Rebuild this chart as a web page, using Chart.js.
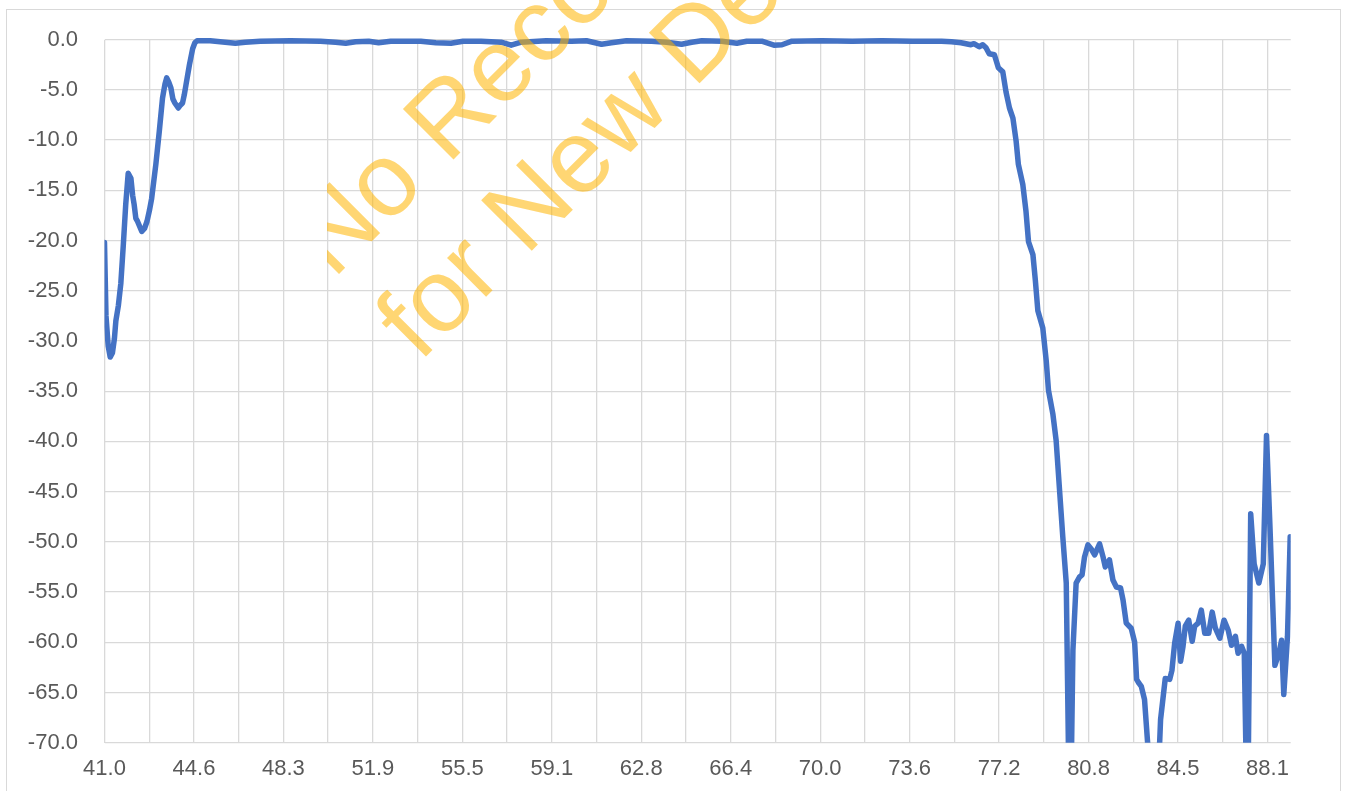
<!DOCTYPE html>
<html>
<head>
<meta charset="utf-8">
<script src="https://cdn.jsdelivr.net/npm/chart.js@4"></script>
<style>
    body { margin: 0; background: #ffffff; }
    #wrap { position: relative; width: 1346px; height: 791px; overflow: hidden; }
    #frame { position: absolute; left: 6px; top: 9px; width: 1335px; height: 820px; border: 1px solid #d9d9d9; box-sizing: border-box; }
    #myChart { position: absolute; left: 0; top: 0; }
</style>
</head>
<body>
<div id="wrap">
    <div id="frame"></div>
    <canvas id="myChart"></canvas>
</div>
<script>
// frequency points
const freqs = [
    41.00, 41.06, 41.15, 41.23, 41.32, 41.40, 41.46, 41.56, 41.66, 41.76,
    41.86, 41.96, 42.07, 42.14, 42.20, 42.27, 42.34, 42.51, 42.62, 42.72,
    42.82, 42.91, 43.08, 43.22, 43.35, 43.45, 43.52, 43.60, 43.69, 43.77,
    43.85, 43.99, 44.08, 44.16, 44.23, 44.30, 44.44, 44.57, 44.66, 44.75,
    45.28, 45.89, 46.30, 46.70, 47.31, 48.53, 49.75, 50.36, 50.77, 51.17,
    51.70, 52.10, 52.59, 53.81, 54.42, 55.03, 55.52, 56.25, 57.06, 57.47,
    57.88, 58.89, 59.91, 60.52, 61.13, 61.53, 62.14, 63.16, 63.76, 64.37,
    64.78, 65.19, 66.00, 66.61, 67.01, 67.62, 68.11, 68.44, 68.84, 70.06,
    71.28, 72.50, 73.71, 74.90, 75.30, 75.69, 76.09, 76.21, 76.42, 76.57,
    76.70, 76.83, 77.04, 77.20, 77.38, 77.51, 77.65, 77.79, 77.92, 78.01,
    78.19, 78.32, 78.42, 78.60, 78.70, 78.80, 79.00, 79.14, 79.23, 79.41,
    79.54, 79.68, 79.81, 79.95, 80.10, 80.22, 80.35, 80.49, 80.59, 80.69,
    80.83, 80.96, 81.10, 81.30, 81.44, 81.53, 81.70, 81.84, 81.98, 82.15,
    82.25, 82.38, 82.58, 82.72, 82.80, 82.90, 82.99, 83.12, 83.26, 83.48,
    83.70, 83.77, 83.96, 84.14, 84.23, 84.34, 84.48, 84.58, 84.68, 84.77,
    84.91, 85.05, 85.15, 85.29, 85.42, 85.56, 85.72, 85.86, 85.99, 86.17,
    86.34, 86.51, 86.64, 86.80, 86.91, 87.05, 87.16, 87.29, 87.42, 87.56,
    87.75, 87.93, 88.06, 88.20, 88.40, 88.56, 88.67, 88.76, 88.91, 89.02
];

// response in dB, same order as freqs
const gains = [
    -20.2, -27.5, -30.5, -31.6, -31.2, -29.8, -28.0, -26.5, -24.3, -20.5,
    -16.4, -13.3, -13.8, -15.5, -16.4, -17.8, -18.1, -19.1, -18.8, -18.1,
    -17.0, -15.8, -12.4, -9.1, -5.8, -4.4, -3.8, -4.2, -4.8, -5.9,
    -6.3, -6.8, -6.5, -6.3, -5.5, -4.5, -2.5, -0.9, -0.3, -0.1,
    -0.1, -0.25, -0.35, -0.25, -0.15, -0.1, -0.15, -0.25, -0.35, -0.2,
    -0.15, -0.3, -0.15, -0.15, -0.3, -0.35, -0.15, -0.15, -0.25, -0.55,
    -0.25, -0.1, -0.15, -0.1, -0.45, -0.3, -0.1, -0.15, -0.25, -0.45,
    -0.25, -0.1, -0.15, -0.35, -0.15, -0.15, -0.55, -0.5, -0.15, -0.1,
    -0.15, -0.1, -0.15, -0.15, -0.2, -0.3, -0.5, -0.4, -0.7, -0.5,
    -0.8, -1.4, -1.5, -2.8, -3.2, -5.2, -6.8, -7.8, -10.1, -12.4,
    -14.4, -17.1, -20.1, -21.4, -24.0, -27.0, -28.7, -32.0, -34.9, -37.3,
    -39.9, -44.9, -49.5, -54.1, -82.0, -60.8, -54.1, -53.5, -53.3, -51.5,
    -50.3, -50.7, -51.3, -50.2, -51.5, -52.5, -51.8, -53.8, -54.5, -54.6,
    -55.8, -58.1, -58.6, -60.0, -63.7, -64.1, -64.4, -65.7, -70.5, -82.0,
    -72.0, -67.7, -63.6, -63.7, -62.8, -60.1, -58.1, -61.9, -60.4, -58.4,
    -57.8, -59.9, -58.4, -58.1, -56.8, -59.1, -59.1, -57.0, -58.6, -59.6,
    -57.8, -58.8, -60.3, -59.4, -61.1, -60.4, -61.1, -80.0, -47.2, -52.2,
    -54.1, -52.2, -39.4, -48.5, -62.3, -61.1, -59.8, -65.2, -59.4, -49.5
];

const xTickLabels = ['41.0', '44.6', '48.3', '51.9', '55.5', '59.1', '62.8',
    '66.4', '70.0', '73.6', '77.2', '80.8', '84.5', '88.1'];
const xStart = 41.0;
const xLabelStep = 3.623;
const xEnd = 89.04;

const watermarkLines = ['No Recommend', 'for New Designs'];

function buildPoints() {
    var pts = [];
    for (var i = 0; i < freqs.length; i++) {
        pts.push({ x: freqs[i], y: gains[i] });
    }
    return pts;
}

// orange stamp drawn over the plot, cut off on its left edge
const watermarkPlugin = {
    id: 'watermark',
    afterDraw: function (chart) {
        var ctx = chart.ctx;
        ctx.save();
        ctx.beginPath();
        ctx.rect(327, 0, chart.width - 327, chart.height);
        ctx.clip();
        ctx.translate(333, 280);
        ctx.rotate(-Math.PI / 4);
        ctx.font = '104px "Liberation Sans"';
        ctx.fillStyle = 'rgba(255, 180, 0, 0.55)';
        ctx.textBaseline = 'alphabetic';
        ctx.fillText(watermarkLines[0], 0, 0);
        ctx.fillText(watermarkLines[1], 2.5, 120);
        ctx.restore();
    }
};

const tickFont = { family: '"Liberation Sans", Arial, sans-serif', size: 22 };

new Chart(document.getElementById('myChart'), {
    type: 'line',
    data: {
        datasets: [{
            data: buildPoints(),
            borderColor: '#4472c4',
            borderWidth: 5.5,
            pointRadius: 0,
            tension: 0,
            borderJoinStyle: 'round',
            borderCapStyle: 'round',
            clip: { left: 0, top: 3, right: 0, bottom: 0 }
        }]
    },
    options: {
        responsive: true,
        maintainAspectRatio: false,
        animation: false,
        layout: {
            padding: { left: 0, top: 37.7, right: 55.3, bottom: 0 }
        },
        plugins: {
            legend: { display: false },
            tooltip: { enabled: false }
        },
        scales: {
            x: {
                type: 'linear',
                min: xStart,
                max: xEnd,
                border: { display: false },
                grid: { color: '#d9d9d9', lineWidth: 1.3, drawTicks: false },
                afterBuildTicks: function (scale) {
                    var t = [];
                    for (var k = 0; k <= (xTickLabels.length - 1) * 2; k++) {
                        t.push({ value: xStart + k * xLabelStep / 2 });
                    }
                    scale.ticks = t;
                },
                afterFit: function (scale) { scale.height = 48.3; },
                ticks: {
                    autoSkip: false,
                    maxRotation: 0,
                    padding: 13,
                    color: '#595959',
                    font: tickFont,
                    callback: function (value, index) {
                        return index % 2 === 0 ? xTickLabels[index / 2] : '';
                    }
                }
            },
            y: {
                min: -70,
                max: 0,
                border: { display: false },
                grid: { color: '#d9d9d9', lineWidth: 1.3, drawTicks: false },
                afterFit: function (scale) { scale.width = 104.5; },
                ticks: {
                    stepSize: 5,
                    padding: 26.5,
                    color: '#595959',
                    font: tickFont,
                    callback: function (value) { return value.toFixed(1); }
                }
            }
        }
    },
    plugins: [watermarkPlugin]
});
</script>
</body>
</html>
